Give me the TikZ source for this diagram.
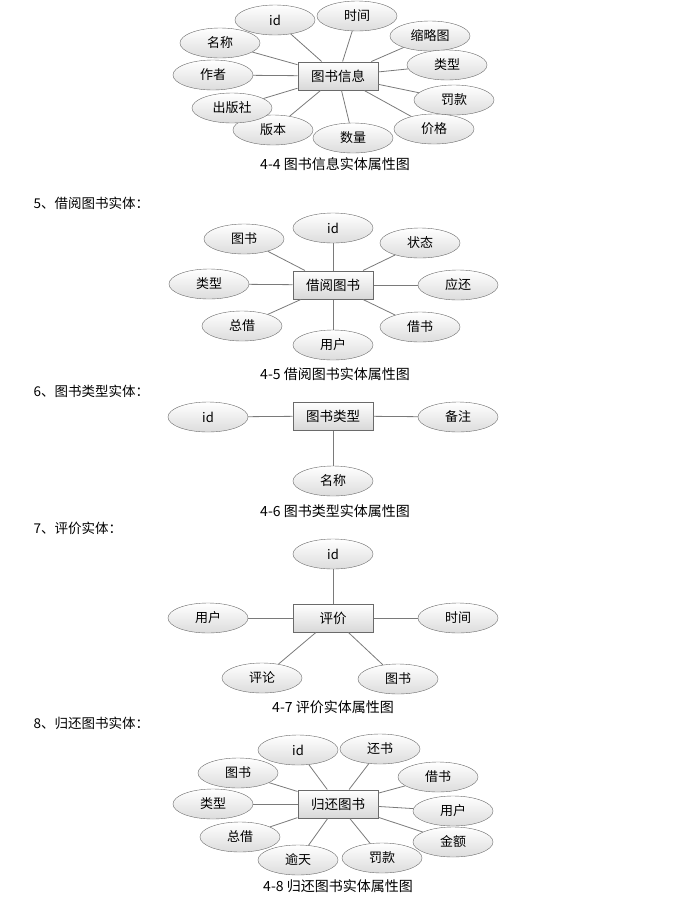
\documentclass[tikz,border=0pt]{standalone}
\usepackage{fontspec}
\setmainfont{Noto Sans CJK SC}
\usetikzlibrary{shapes.geometric}
\definecolor{linegray}{HTML}{7A7A7A}
\definecolor{ringgray}{HTML}{6A6A6A}
\definecolor{fillgray}{HTML}{DCDCDC}
\definecolor{boxgray}{HTML}{D8D8D8}

\tikzset{
  attr/.style={ellipse,draw=ringgray,top color=white,bottom color=fillgray,
    minimum width=80pt,minimum height=30pt,inner sep=0pt,
    font=\fontsize{13}{15}\selectfont},
  ent/.style={rectangle,draw=ringgray,line width=1pt,top color=white,bottom color=boxgray,
    minimum width=80pt,minimum height=28pt,inner sep=0pt,
    font=\fontsize{13.5}{15}\selectfont},
  link/.style={draw=linegray,line width=0.8pt},
  caption/.style={font=\fontsize{14}{16}\selectfont},
  heading/.style={anchor=west,font=\fontsize{13.5}{15}\selectfont}
}

\begin{document}
\begin{tikzpicture}[x=1pt,y=-1pt]
\useasboundingbox (0,0) rectangle (681,898);

% 4-4
\node[ent] (bookinfo) at (338,76) {图书信息};
\node[attr] (bi1) at (275,20) {id};
\node[attr] (bi2) at (357,16) {时间};
\node[attr] (bi3) at (430,36) {缩略图};
\node[attr] (bi4) at (447,65) {类型};
\node[attr] (bi5) at (454,100) {罚款};
\node[attr] (bi6) at (434,129) {价格};
\node[attr] (bi7) at (353,138) {数量};
\node[attr] (bi8) at (273,130) {版本};
\node[attr] (bi9) at (232,108) {出版社};
\node[attr] (bi10) at (213,75) {作者};
\node[attr] (bi11) at (220,43) {名称};
\foreach \a in {bi1,bi2,bi3,bi4,bi5,bi6,bi7,bi8,bi9,bi10,bi11}
  \draw[link] (\a) -- (bookinfo);
\node[caption] (cap4) at (335,164) {4-4 图书信息实体属性图};

% 4-5
\node[heading] (h5) at (30,203) {5、借阅图书实体：};
\node[ent] (borrow) at (333,285) {借阅图书};
\node[attr] (bb1) at (333,228) {id};
\node[attr] (bb2) at (244,239) {图书};
\node[attr] (bb3) at (420,243) {状态};
\node[attr] (bb4) at (209,284) {类型};
\node[attr] (bb5) at (458,285) {应还};
\node[attr] (bb6) at (242,326) {总借};
\node[attr] (bb7) at (333,345) {用户};
\node[attr] (bb8) at (420,327) {借书};
\foreach \a in {bb1,bb2,bb3,bb4,bb5,bb6,bb7,bb8}
  \draw[link] (\a) -- (borrow);
\node[caption] (cap5) at (335,374) {4-5 借阅图书实体属性图};

% 4-6
\node[heading] (h6) at (30,391) {6、图书类型实体：};
\node[ent] (btype) at (333,416) {图书类型};
\node[attr] (bt1) at (208,417) {id};
\node[attr] (bt2) at (458,417) {备注};
\node[attr] (bt3) at (333,481) {名称};
\foreach \a in {bt1,bt2,bt3}
  \draw[link] (\a) -- (btype);
\node[caption] (cap6) at (335,511) {4-6 图书类型实体属性图};

% 4-7
\node[heading] (h7) at (30,528) {7、评价实体：};
\node[ent] (review) at (333,618) {评价};
\node[attr] (rv1) at (333,554) {id};
\node[attr] (rv2) at (208,618) {用户};
\node[attr] (rv3) at (458,618) {时间};
\node[attr] (rv4) at (262,678) {评论};
\node[attr] (rv5) at (398,679) {图书};
\foreach \a in {rv1,rv2,rv3,rv4,rv5}
  \draw[link] (\a) -- (review);
\node[caption] (cap7) at (333,707) {4-7 评价实体属性图};

% 4-8
\node[heading] (h8) at (30,723) {8、归还图书实体：};
\node[ent] (giveback) at (338,804) {归还图书};
\node[attr] (rb1) at (298,750) {id};
\node[attr] (rb2) at (380,749) {还书};
\node[attr] (rb3) at (238,773) {图书};
\node[attr] (rb4) at (438,777) {借书};
\node[attr] (rb5) at (213,804) {类型};
\node[attr] (rb6) at (453,811) {用户};
\node[attr] (rb7) at (240,837) {总借};
\node[attr] (rb8) at (453,842) {金额};
\node[attr] (rb9) at (298,860) {逾天};
\node[attr] (rb10) at (382,858) {罚款};
\foreach \a in {rb1,rb2,rb3,rb4,rb5,rb6,rb7,rb8,rb9,rb10}
  \draw[link] (\a) -- (giveback);
\node[caption] (cap8) at (338,886) {4-8 归还图书实体属性图};
\end{tikzpicture}
\end{document}
